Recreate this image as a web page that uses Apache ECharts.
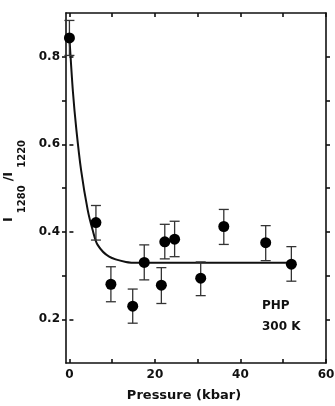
<!DOCTYPE html>
<html><head><meta charset="utf-8">
<script src="https://cdn.jsdelivr.net/npm/echarts@6/dist/echarts.min.js"></script>
<style>html,body{margin:0;padding:0;background:#fff}#c{width:335px;height:406px}</style>
</head><body><div id="c"></div>
<script>
// Data
var pressure = [0, 6.2, 9.7, 14.8, 17.5, 21.5, 22.3, 24.6, 30.7, 36.1, 45.9, 51.9];
var ratio    = [0.843, 0.421, 0.280, 0.230, 0.330, 0.278, 0.377, 0.383, 0.294, 0.412, 0.375, 0.326];
var errTop   = [0.040, 0.039, 0.040, 0.039, 0.040, 0.040, 0.040, 0.041, 0.037, 0.039, 0.039, 0.040];
var errBot   = [0.040, 0.040, 0.040, 0.039, 0.040, 0.042, 0.039, 0.040, 0.040, 0.041, 0.041, 0.039];
var fitX = [0, 0.82, 1.63, 2.73, 4.27, 5.43, 6.6, 9.3, 13.2, 16.3, 52];
var fitY = [0.843, 0.72, 0.633, 0.541, 0.45, 0.404, 0.37, 0.343, 0.331, 0.329, 0.329];
var xTickLabels = [0, 20, 40, 60];
var xTicks = [0, 10, 20, 30, 40, 50, 60];
var yTickLabels = [0.2, 0.4, 0.6, 0.8];
var yTicks = [0.2, 0.3, 0.4, 0.5, 0.6, 0.7, 0.8];

var pts = pressure.map(function(x, i){ return [x, ratio[i]]; });
var errs = pressure.map(function(x, i){ return [x, ratio[i] - errBot[i], ratio[i] + errTop[i]]; });
var fit = fitX.map(function(x, i){ return [x, fitY[i]]; });

var FONT = 'DejaVu Sans';
var lineStyle = {color: '#111', width: 1.6};
var chart = echarts.init(document.getElementById('c'), null, {renderer: 'canvas'});
chart.setOption({
  animation: false,
  backgroundColor: '#fff',
  grid: {left: 66, right: 9, top: 13, bottom: 43, containLabel: false, outerBoundsMode: 'none'},
  xAxis: [{
    type: 'value', min: -0.8, max: 60, position: 'bottom',
    name: 'Pressure (kbar)', nameLocation: 'middle', nameGap: 26,
    nameTextStyle: {fontFamily: FONT, fontWeight: 'bold', fontSize: 13, color: '#111', padding: [0, 24, 0, 0]},
    axisLine: {onZero: false, lineStyle: lineStyle},
    axisTick: {inside: true, length: 4, customValues: xTicks, lineStyle: lineStyle},
    axisLabel: {customValues: xTickLabels, fontFamily: FONT, fontWeight: 'bold', fontSize: 12, color: '#111', margin: 6},
    splitLine: {show: false}
  }, {
    type: 'value', min: -0.8, max: 60, position: 'top',
    axisLine: {onZero: false, lineStyle: lineStyle},
    axisTick: {inside: true, length: 4, customValues: xTicks, lineStyle: lineStyle},
    axisLabel: {show: false}, splitLine: {show: false}
  }],
  yAxis: [{
    type: 'value', min: 0.1, max: 0.9, position: 'left',
    name: '{m|I}{s|1280}{m|/I}{s|1220}', nameLocation: 'middle', nameGap: 30, nameRotate: 90,
    nameTextStyle: {
      padding: [0, 0, 0, 14],
      rich: {
        m: {fontFamily: FONT, fontWeight: 'bold', fontSize: 13, color: '#111', lineHeight: 26, verticalAlign: 'top', padding: [0, 2, 0, 2]},
        s: {fontFamily: FONT, fontWeight: 'bold', fontSize: 10, color: '#111', lineHeight: 26, verticalAlign: 'bottom', padding: [0, 2, 0, 2]}
      }
    },
    axisLine: {onZero: false, lineStyle: lineStyle},
    axisTick: {inside: false, length: 4, customValues: yTicks, lineStyle: lineStyle},
    axisLabel: {customValues: yTickLabels, fontFamily: FONT, fontWeight: 'bold', fontSize: 12, color: '#111', margin: 6,
      formatter: function(v){ return v.toFixed(1); }},
    splitLine: {show: false}
  }, {
    type: 'value', min: 0.1, max: 0.9, position: 'right',
    axisLine: {onZero: false, lineStyle: lineStyle},
    axisTick: {inside: false, length: 4, customValues: yTicks, lineStyle: lineStyle},
    axisLabel: {show: false}, splitLine: {show: false}
  }, {
    type: 'value', min: 0.1, max: 0.9, position: 'left',
    axisLine: {show: false},
    axisTick: {inside: true, length: 4, customValues: yTickLabels, lineStyle: lineStyle},
    axisLabel: {show: false}, splitLine: {show: false}
  }],
  graphic: [
    {type: 'text', left: 262, top: 300, style: {text: 'PHP', fontFamily: FONT, fontWeight: 'bold', fontSize: 12, fill: '#111'}},
    {type: 'text', left: 262, top: 321, style: {text: '300 K', fontFamily: FONT, fontWeight: 'bold', fontSize: 12, fill: '#111'}}
  ],
  series: [{
    type: 'line', data: fit, showSymbol: false, smooth: 0.3, z: 2,
    lineStyle: {color: '#111', width: 2}
  }, {
    type: 'custom', data: errs, z: 3,
    renderItem: function(params, api){
      var x = api.value(0);
      var lo = api.coord([x, api.value(1)]);
      var hi = api.coord([x, api.value(2)]);
      var w = 5;
      var st = {stroke: '#333', lineWidth: 1.3};
      return {type: 'group', children: [
        {type: 'line', shape: {x1: lo[0], y1: lo[1], x2: hi[0], y2: hi[1]}, style: st},
        {type: 'line', shape: {x1: lo[0]-w, y1: lo[1], x2: lo[0]+w, y2: lo[1]}, style: st},
        {type: 'line', shape: {x1: hi[0]-w, y1: hi[1], x2: hi[0]+w, y2: hi[1]}, style: st}
      ]};
    }
  }, {
    type: 'scatter', data: pts, symbol: 'circle', symbolSize: 11, z: 4,
    itemStyle: {color: '#000', opacity: 1}
  }]
});
</script></body></html>
